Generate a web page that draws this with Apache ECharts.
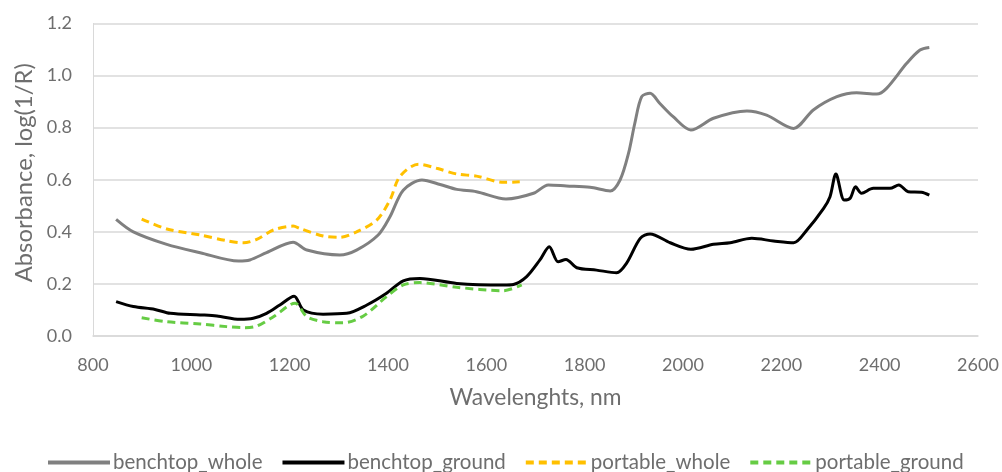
<!DOCTYPE html>
<html>
<head>
<meta charset="utf-8">
<script src="https://cdn.jsdelivr.net/npm/echarts@6/dist/echarts.min.js"></script>
<style>
  html, body { margin: 0; padding: 0; background: #fff; }
  #spectra { width: 1002px; height: 472px; }
</style>
</head>
<body>
<div id="spectra"></div>
<script>
  // wavelengths (nm) and absorbance
  var wlBenchWhole = [847, 882, 950, 1018, 1096, 1119, 1153, 1207, 1235, 1302, 1336, 1380, 1404, 1431, 1469, 1506, 1540, 1580, 1640, 1696, 1726, 1763, 1811, 1852, 1872, 1889, 1902, 1916, 1933, 1953, 1980, 2016, 2062, 2130, 2170, 2225, 2265, 2313, 2353, 2394, 2414, 2455, 2482, 2501];
  var absBenchWhole = [0.448, 0.400, 0.352, 0.320, 0.288, 0.292, 0.320, 0.360, 0.330, 0.311, 0.330, 0.388, 0.458, 0.560, 0.599, 0.582, 0.563, 0.554, 0.526, 0.548, 0.580, 0.576, 0.571, 0.557, 0.599, 0.700, 0.817, 0.919, 0.932, 0.893, 0.842, 0.791, 0.836, 0.864, 0.848, 0.797, 0.868, 0.919, 0.934, 0.929, 0.951, 1.047, 1.098, 1.108];

  var wlBenchGround = [847, 882, 926, 957, 1018, 1052, 1099, 1126, 1153, 1180, 1209, 1228, 1268, 1316, 1357, 1397, 1431, 1465, 1540, 1635, 1655, 1682, 1709, 1728, 1746, 1762, 1784, 1824, 1865, 1885, 1913, 1933, 1974, 2016, 2062, 2096, 2140, 2184, 2225, 2252, 2286, 2299, 2311, 2328, 2340, 2351, 2363, 2387, 2421, 2439, 2458, 2485, 2501];
  var absBenchGround = [0.132, 0.113, 0.102, 0.087, 0.081, 0.077, 0.064, 0.068, 0.087, 0.119, 0.153, 0.100, 0.084, 0.087, 0.119, 0.164, 0.212, 0.221, 0.202, 0.196, 0.198, 0.228, 0.292, 0.343, 0.285, 0.294, 0.262, 0.253, 0.243, 0.279, 0.375, 0.392, 0.358, 0.333, 0.352, 0.358, 0.375, 0.365, 0.358, 0.407, 0.490, 0.535, 0.622, 0.522, 0.529, 0.573, 0.548, 0.567, 0.567, 0.580, 0.554, 0.552, 0.541];

  var wlPortWhole = [899, 950, 1018, 1072, 1106, 1133, 1167, 1207, 1221, 1268, 1302, 1336, 1377, 1404, 1424, 1462, 1499, 1540, 1580, 1635, 1668];
  var absPortWhole = [0.449, 0.411, 0.388, 0.366, 0.358, 0.371, 0.407, 0.422, 0.413, 0.384, 0.379, 0.400, 0.445, 0.522, 0.612, 0.660, 0.644, 0.622, 0.614, 0.590, 0.592];

  var wlPortGround = [899, 950, 1018, 1072, 1106, 1133, 1167, 1211, 1235, 1268, 1309, 1350, 1397, 1431, 1465, 1540, 1635, 1672];
  var absPortGround = [0.070, 0.055, 0.046, 0.036, 0.032, 0.038, 0.074, 0.126, 0.074, 0.055, 0.051, 0.077, 0.151, 0.196, 0.205, 0.187, 0.174, 0.196];

  var seriesNames = ['benchtop_whole', 'benchtop_ground', 'portable_whole', 'portable_ground'];
  var seriesColors = ['#808080', '#000000', '#FFC000', '#66CC44'];
  var seriesDash = ['solid', 'solid', [8, 5], [8, 5]];

  function pairs(xs, ys) {
    var out = [];
    for (var i = 0; i < xs.length; i++) out.push([xs[i], ys[i]]);
    return out;
  }

  var allData = [
    pairs(wlBenchWhole, absBenchWhole),
    pairs(wlBenchGround, absBenchGround),
    pairs(wlPortWhole, absPortWhole),
    pairs(wlPortGround, absPortGround)
  ];

  var txtColor = '#6e6e6e';
  var font = 'Lato, "Open Sans", sans-serif';

  var option = {
    animation: false,
    grid: { left: 93, right: 24, top: 23.5, bottom: 136 },
    legend: {
      top: 447,
      left: 41,
      itemWidth: 62,
      itemHeight: 4,
      itemGap: 18,
      itemStyle: { opacity: 0 },
      lineStyle: { width: 4 },
      textStyle: { color: txtColor, fontSize: 20.5, fontFamily: font, padding: [0, 0, 0, -2] },
      data: seriesNames
    },
    xAxis: {
      type: 'value',
      min: 800,
      max: 2600,
      interval: 200,
      name: 'Wavelenghts, nm',
      nameLocation: 'middle',
      nameGap: 50,
      nameTextStyle: { color: txtColor, fontSize: 22.8, fontFamily: font },
      axisLine: { lineStyle: { color: '#d9d9d9', width: 1.5 } },
      axisTick: { show: false },
      axisLabel: {
        color: txtColor, fontSize: 18, fontFamily: font, margin: 20,
        formatter: function (v) { return String(v); }
      },
      splitLine: { show: false }
    },
    yAxis: {
      type: 'value',
      min: 0,
      max: 1.2,
      interval: 0.2,
      name: 'Absorbance, log(1/R)',
      nameLocation: 'middle',
      nameGap: 51,
      nameTextStyle: { color: txtColor, fontSize: 23.8, fontFamily: font, padding: [0, 0, 0, 14] },
      axisLine: { show: true, lineStyle: { color: '#d9d9d9', width: 1 } },
      axisTick: { show: false },
      axisLabel: {
        color: txtColor, fontSize: 18, fontFamily: font, margin: 21,
        formatter: function (v) { return v.toFixed(1); }
      },
      splitLine: { lineStyle: { color: '#d9d9d9', width: 1.5 } }
    },
    series: seriesNames.map(function (n, i) {
      return {
        name: n,
        type: 'line',
        data: allData[i],
        smooth: 0.3,
        showSymbol: false,
        symbol: 'none',
        color: seriesColors[i],
        lineStyle: { color: seriesColors[i], width: 3, type: seriesDash[i] }
      };
    })
  };

  var chart = echarts.init(document.getElementById('spectra'));
  chart.setOption(option);
</script>
</body>
</html>
